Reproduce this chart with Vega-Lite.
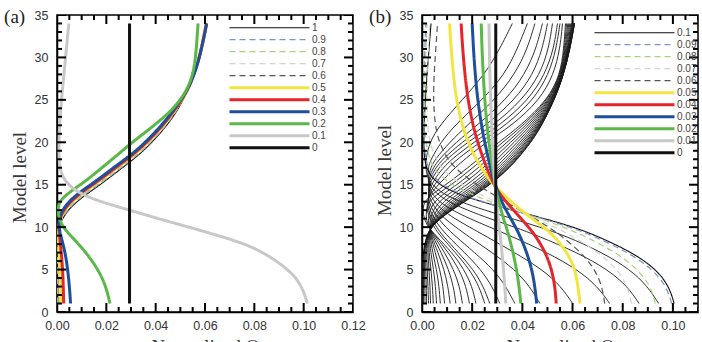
{
"$schema":"https://vega.github.io/schema/vega-lite/v6.json",
"padding":{"left":3,"top":7,"right":0,"bottom":0},
"datasets":{
"a":[
{"k":"1","l":1,"q":0},{"k":"1","l":4,"q":0},{"k":"1","l":7,"q":0.0001},{"k":"1","l":9,"q":0.0003},{"k":"1","l":10,"q":0.0008},{"k":"1","l":11,"q":0.0022},{"k":"1","l":12,"q":0.0045},{"k":"1","l":13,"q":0.008},{"k":"1","l":14,"q":0.0125},{"k":"1","l":15,"q":0.0175},{"k":"1","l":16,"q":0.022},{"k":"1","l":17,"q":0.0265},{"k":"1","l":18,"q":0.031},{"k":"1","l":19,"q":0.035},{"k":"1","l":20,"q":0.0385},{"k":"1","l":22,"q":0.0447},{"k":"1","l":24,"q":0.0494},{"k":"1","l":26,"q":0.0529},{"k":"1","l":28,"q":0.0555},{"k":"1","l":30,"q":0.0574},{"k":"1","l":32,"q":0.0589},{"k":"1","l":34,"q":0.0602},
{"k":"0.9","l":1,"q":0.0002},{"k":"0.9","l":4,"q":0.0002},{"k":"0.9","l":7,"q":0.0002},{"k":"0.9","l":9,"q":0.0003},{"k":"0.9","l":10,"q":0.0008},{"k":"0.9","l":11,"q":0.002},{"k":"0.9","l":12,"q":0.0042},{"k":"0.9","l":13,"q":0.0075},{"k":"0.9","l":14,"q":0.0119},{"k":"0.9","l":15,"q":0.0169},{"k":"0.9","l":16,"q":0.0215},{"k":"0.9","l":17,"q":0.026},{"k":"0.9","l":18,"q":0.0305},{"k":"0.9","l":19,"q":0.0345},{"k":"0.9","l":20,"q":0.0381},{"k":"0.9","l":22,"q":0.0444},{"k":"0.9","l":24,"q":0.0492},{"k":"0.9","l":26,"q":0.0529},{"k":"0.9","l":28,"q":0.0555},{"k":"0.9","l":30,"q":0.0574},{"k":"0.9","l":32,"q":0.0589},{"k":"0.9","l":34,"q":0.0602},
{"k":"0.8","l":1,"q":0.0004},{"k":"0.8","l":4,"q":0.0004},{"k":"0.8","l":7,"q":0.0003},{"k":"0.8","l":9,"q":0.0003},{"k":"0.8","l":10,"q":0.0007},{"k":"0.8","l":11,"q":0.0018},{"k":"0.8","l":12,"q":0.0039},{"k":"0.8","l":13,"q":0.0071},{"k":"0.8","l":14,"q":0.0114},{"k":"0.8","l":15,"q":0.0164},{"k":"0.8","l":16,"q":0.021},{"k":"0.8","l":17,"q":0.0255},{"k":"0.8","l":18,"q":0.0301},{"k":"0.8","l":19,"q":0.0342},{"k":"0.8","l":20,"q":0.0378},{"k":"0.8","l":22,"q":0.0441},{"k":"0.8","l":24,"q":0.049},{"k":"0.8","l":26,"q":0.0529},{"k":"0.8","l":28,"q":0.0555},{"k":"0.8","l":30,"q":0.0574},{"k":"0.8","l":32,"q":0.0589},{"k":"0.8","l":34,"q":0.0602},
{"k":"0.7","l":1,"q":0.0006},{"k":"0.7","l":4,"q":0.0005},{"k":"0.7","l":7,"q":0.0004},{"k":"0.7","l":9,"q":0.0004},{"k":"0.7","l":10,"q":0.0007},{"k":"0.7","l":11,"q":0.0017},{"k":"0.7","l":12,"q":0.0036},{"k":"0.7","l":13,"q":0.0068},{"k":"0.7","l":14,"q":0.0111},{"k":"0.7","l":15,"q":0.0161},{"k":"0.7","l":16,"q":0.0207},{"k":"0.7","l":17,"q":0.0252},{"k":"0.7","l":18,"q":0.0297},{"k":"0.7","l":19,"q":0.0339},{"k":"0.7","l":20,"q":0.0375},{"k":"0.7","l":22,"q":0.0439},{"k":"0.7","l":24,"q":0.0488},{"k":"0.7","l":26,"q":0.0529},{"k":"0.7","l":28,"q":0.0555},{"k":"0.7","l":30,"q":0.0575},{"k":"0.7","l":32,"q":0.059},{"k":"0.7","l":34,"q":0.0603},
{"k":"0.6","l":1,"q":0.0009},{"k":"0.6","l":4,"q":0.0008},{"k":"0.6","l":7,"q":0.0006},{"k":"0.6","l":9,"q":0.0005},{"k":"0.6","l":10,"q":0.0007},{"k":"0.6","l":11,"q":0.0015},{"k":"0.6","l":12,"q":0.0034},{"k":"0.6","l":13,"q":0.0065},{"k":"0.6","l":14,"q":0.0107},{"k":"0.6","l":15,"q":0.0157},{"k":"0.6","l":16,"q":0.0203},{"k":"0.6","l":17,"q":0.0248},{"k":"0.6","l":18,"q":0.0294},{"k":"0.6","l":19,"q":0.0336},{"k":"0.6","l":20,"q":0.0372},{"k":"0.6","l":22,"q":0.0437},{"k":"0.6","l":24,"q":0.0486},{"k":"0.6","l":26,"q":0.0529},{"k":"0.6","l":28,"q":0.0555},{"k":"0.6","l":30,"q":0.0575},{"k":"0.6","l":32,"q":0.059},{"k":"0.6","l":34,"q":0.0603},
{"k":"0.5","l":1,"q":0.0015},{"k":"0.5","l":4,"q":0.0013},{"k":"0.5","l":7,"q":0.0009},{"k":"0.5","l":9,"q":0.0006},{"k":"0.5","l":10,"q":0.0007},{"k":"0.5","l":11,"q":0.0013},{"k":"0.5","l":12,"q":0.003},{"k":"0.5","l":13,"q":0.006},{"k":"0.5","l":14,"q":0.0101},{"k":"0.5","l":15,"q":0.0151},{"k":"0.5","l":16,"q":0.0197},{"k":"0.5","l":17,"q":0.0243},{"k":"0.5","l":18,"q":0.0289},{"k":"0.5","l":19,"q":0.0331},{"k":"0.5","l":20,"q":0.0368},{"k":"0.5","l":22,"q":0.0433},{"k":"0.5","l":24,"q":0.0484},{"k":"0.5","l":26,"q":0.0529},{"k":"0.5","l":28,"q":0.0556},{"k":"0.5","l":30,"q":0.0576},{"k":"0.5","l":32,"q":0.0591},{"k":"0.5","l":34,"q":0.0604},
{"k":"0.4","l":1,"q":0.0027},{"k":"0.4","l":4,"q":0.0025},{"k":"0.4","l":7,"q":0.0018},{"k":"0.4","l":9,"q":0.001},{"k":"0.4","l":10,"q":0.0007},{"k":"0.4","l":11,"q":0.0011},{"k":"0.4","l":12,"q":0.0027},{"k":"0.4","l":13,"q":0.0055},{"k":"0.4","l":14,"q":0.0095},{"k":"0.4","l":15,"q":0.0145},{"k":"0.4","l":16,"q":0.0192},{"k":"0.4","l":17,"q":0.0237},{"k":"0.4","l":18,"q":0.0284},{"k":"0.4","l":19,"q":0.0326},{"k":"0.4","l":20,"q":0.0364},{"k":"0.4","l":22,"q":0.043},{"k":"0.4","l":24,"q":0.0482},{"k":"0.4","l":26,"q":0.0528},{"k":"0.4","l":28,"q":0.0556},{"k":"0.4","l":30,"q":0.0577},{"k":"0.4","l":32,"q":0.0593},{"k":"0.4","l":34,"q":0.0606},
{"k":"0.3","l":1,"q":0.0055},{"k":"0.3","l":4,"q":0.0048},{"k":"0.3","l":7,"q":0.0034},{"k":"0.3","l":9,"q":0.0015},{"k":"0.3","l":10,"q":0.0008},{"k":"0.3","l":11,"q":0.0008},{"k":"0.3","l":12,"q":0.0022},{"k":"0.3","l":13,"q":0.0048},{"k":"0.3","l":14,"q":0.0087},{"k":"0.3","l":15,"q":0.0137},{"k":"0.3","l":16,"q":0.0184},{"k":"0.3","l":17,"q":0.0229},{"k":"0.3","l":18,"q":0.0276},{"k":"0.3","l":19,"q":0.032},{"k":"0.3","l":20,"q":0.0358},{"k":"0.3","l":22,"q":0.0425},{"k":"0.3","l":24,"q":0.0478},{"k":"0.3","l":26,"q":0.0527},{"k":"0.3","l":28,"q":0.0556},{"k":"0.3","l":30,"q":0.0578},{"k":"0.3","l":32,"q":0.0593},{"k":"0.3","l":34,"q":0.0607},
{"k":"0.2","l":1,"q":0.0215},{"k":"0.2","l":4,"q":0.019},{"k":"0.2","l":7,"q":0.012},{"k":"0.2","l":9,"q":0.0055},{"k":"0.2","l":10,"q":0.0025},{"k":"0.2","l":11,"q":0.0008},{"k":"0.2","l":12,"q":0.0003},{"k":"0.2","l":13,"q":0.0008},{"k":"0.2","l":14,"q":0.0045},{"k":"0.2","l":15,"q":0.0095},{"k":"0.2","l":16,"q":0.014},{"k":"0.2","l":17,"q":0.0182},{"k":"0.2","l":18,"q":0.0224},{"k":"0.2","l":19,"q":0.0265},{"k":"0.2","l":20,"q":0.0305},{"k":"0.2","l":22,"q":0.0395},{"k":"0.2","l":24,"q":0.0475},{"k":"0.2","l":26,"q":0.0525},{"k":"0.2","l":28,"q":0.0551},{"k":"0.2","l":30,"q":0.0562},{"k":"0.2","l":32,"q":0.0567},{"k":"0.2","l":34,"q":0.0572},
{"k":"0.1","l":1,"q":0.1015},{"k":"0.1","l":2,"q":0.1005},{"k":"0.1","l":3,"q":0.099},{"k":"0.1","l":4,"q":0.097},{"k":"0.1","l":5,"q":0.0935},{"k":"0.1","l":6,"q":0.089},{"k":"0.1","l":7,"q":0.0835},{"k":"0.1","l":8,"q":0.0765},{"k":"0.1","l":9,"q":0.0655},{"k":"0.1","l":10,"q":0.0535},{"k":"0.1","l":11,"q":0.041},{"k":"0.1","l":12,"q":0.0295},{"k":"0.1","l":13,"q":0.0175},{"k":"0.1","l":14,"q":0.009},{"k":"0.1","l":15,"q":0.0045},{"k":"0.1","l":16,"q":0.0022},{"k":"0.1","l":17,"q":0.0012},{"k":"0.1","l":18,"q":0.0008},{"k":"0.1","l":20,"q":0.0008},{"k":"0.1","l":22,"q":0.001},{"k":"0.1","l":25,"q":0.0018},{"k":"0.1","l":28,"q":0.0028},{"k":"0.1","l":31,"q":0.0038},{"k":"0.1","l":34,"q":0.0048},
{"k":"0","l":1,"q":0.0294},{"k":"0","l":34,"q":0.0294}
],
"b":[
{"k":"0.1","l":1,"q":0.1005},{"k":"0.1","l":3,"q":0.0985},{"k":"0.1","l":5,"q":0.0935},{"k":"0.1","l":7,"q":0.084},{"k":"0.1","l":9,"q":0.0695},{"k":"0.1","l":10,"q":0.0605},{"k":"0.1","l":11,"q":0.049},{"k":"0.1","l":12,"q":0.036},{"k":"0.1","l":13,"q":0.0235},{"k":"0.1","l":14,"q":0.0135},{"k":"0.1","l":15,"q":0.007},{"k":"0.1","l":16,"q":0.0035},{"k":"0.1","l":17,"q":0.0018},{"k":"0.1","l":18,"q":0.001},{"k":"0.1","l":20,"q":0.0007},{"k":"0.1","l":22,"q":0.0008},{"k":"0.1","l":25,"q":0.0013},{"k":"0.1","l":28,"q":0.002},{"k":"0.1","l":31,"q":0.0028},{"k":"0.1","l":34,"q":0.0036},
{"k":"0.09","l":1,"q":0.0995},{"k":"0.09","l":3,"q":0.0975},{"k":"0.09","l":5,"q":0.092},{"k":"0.09","l":7,"q":0.0825},{"k":"0.09","l":9,"q":0.068},{"k":"0.09","l":10,"q":0.059},{"k":"0.09","l":11,"q":0.048},{"k":"0.09","l":12,"q":0.036},{"k":"0.09","l":13,"q":0.024},{"k":"0.09","l":14,"q":0.0145},{"k":"0.09","l":15,"q":0.0082},{"k":"0.09","l":16,"q":0.0045},{"k":"0.09","l":17,"q":0.0025},{"k":"0.09","l":18,"q":0.0015},{"k":"0.09","l":20,"q":0.0008},{"k":"0.09","l":22,"q":0.0006},{"k":"0.09","l":25,"q":0.0006},{"k":"0.09","l":28,"q":0.0008},{"k":"0.09","l":31,"q":0.0011},{"k":"0.09","l":34,"q":0.0015},
{"k":"0.08","l":1,"q":0.093},{"k":"0.08","l":3,"q":0.0912},{"k":"0.08","l":5,"q":0.0862},{"k":"0.08","l":7,"q":0.0775},{"k":"0.08","l":9,"q":0.0645},{"k":"0.08","l":10,"q":0.0565},{"k":"0.08","l":11,"q":0.0472},{"k":"0.08","l":12,"q":0.0372},{"k":"0.08","l":13,"q":0.0272},{"k":"0.08","l":14,"q":0.0185},{"k":"0.08","l":15,"q":0.012},{"k":"0.08","l":16,"q":0.0075},{"k":"0.08","l":17,"q":0.0046},{"k":"0.08","l":18,"q":0.003},{"k":"0.08","l":20,"q":0.0015},{"k":"0.08","l":22,"q":0.0011},{"k":"0.08","l":25,"q":0.001},{"k":"0.08","l":28,"q":0.0012},{"k":"0.08","l":31,"q":0.0016},{"k":"0.08","l":34,"q":0.002},
{"k":"0.07","l":1,"q":0.0835},{"k":"0.07","l":3,"q":0.082},{"k":"0.07","l":5,"q":0.078},{"k":"0.07","l":7,"q":0.0705},{"k":"0.07","l":9,"q":0.0595},{"k":"0.07","l":10,"q":0.053},{"k":"0.07","l":11,"q":0.0455},{"k":"0.07","l":12,"q":0.0375},{"k":"0.07","l":13,"q":0.0295},{"k":"0.07","l":14,"q":0.0222},{"k":"0.07","l":15,"q":0.016},{"k":"0.07","l":16,"q":0.0112},{"k":"0.07","l":17,"q":0.0078},{"k":"0.07","l":18,"q":0.0055},{"k":"0.07","l":20,"q":0.003},{"k":"0.07","l":22,"q":0.0022},{"k":"0.07","l":25,"q":0.002},{"k":"0.07","l":28,"q":0.0022},{"k":"0.07","l":31,"q":0.0026},{"k":"0.07","l":34,"q":0.003},
{"k":"0.06","l":1,"q":0.0728},{"k":"0.06","l":3,"q":0.0718},{"k":"0.06","l":5,"q":0.069},{"k":"0.06","l":7,"q":0.0635},{"k":"0.06","l":9,"q":0.0555},{"k":"0.06","l":10,"q":0.0505},{"k":"0.06","l":11,"q":0.045},{"k":"0.06","l":12,"q":0.0392},{"k":"0.06","l":13,"q":0.0332},{"k":"0.06","l":14,"q":0.0275},{"k":"0.06","l":15,"q":0.022},{"k":"0.06","l":16,"q":0.0172},{"k":"0.06","l":17,"q":0.0132},{"k":"0.06","l":18,"q":0.0102},{"k":"0.06","l":20,"q":0.0068},{"k":"0.06","l":22,"q":0.0052},{"k":"0.06","l":25,"q":0.0045},{"k":"0.06","l":28,"q":0.0048},{"k":"0.06","l":31,"q":0.0055},{"k":"0.06","l":34,"q":0.0062},
{"k":"0.05","l":1,"q":0.063},{"k":"0.05","l":3,"q":0.0622},{"k":"0.05","l":5,"q":0.061},{"k":"0.05","l":7,"q":0.058},{"k":"0.05","l":9,"q":0.0525},{"k":"0.05","l":10,"q":0.0485},{"k":"0.05","l":11,"q":0.044},{"k":"0.05","l":12,"q":0.0395},{"k":"0.05","l":13,"q":0.0355},{"k":"0.05","l":14,"q":0.032},{"k":"0.05","l":15,"q":0.0285},{"k":"0.05","l":16,"q":0.026},{"k":"0.05","l":17,"q":0.0237},{"k":"0.05","l":18,"q":0.0215},{"k":"0.05","l":20,"q":0.0184},{"k":"0.05","l":22,"q":0.016},{"k":"0.05","l":25,"q":0.0137},{"k":"0.05","l":28,"q":0.0125},{"k":"0.05","l":31,"q":0.0116},{"k":"0.05","l":34,"q":0.011},
{"k":"0.04","l":1,"q":0.0535},{"k":"0.04","l":3,"q":0.053},{"k":"0.04","l":5,"q":0.0517},{"k":"0.04","l":7,"q":0.0493},{"k":"0.04","l":9,"q":0.0452},{"k":"0.04","l":10,"q":0.0425},{"k":"0.04","l":11,"q":0.0395},{"k":"0.04","l":12,"q":0.0365},{"k":"0.04","l":13,"q":0.0335},{"k":"0.04","l":14,"q":0.0308},{"k":"0.04","l":15,"q":0.0288},{"k":"0.04","l":16,"q":0.0272},{"k":"0.04","l":17,"q":0.0258},{"k":"0.04","l":18,"q":0.0245},{"k":"0.04","l":20,"q":0.0222},{"k":"0.04","l":22,"q":0.0203},{"k":"0.04","l":25,"q":0.0183},{"k":"0.04","l":28,"q":0.0171},{"k":"0.04","l":31,"q":0.0162},{"k":"0.04","l":34,"q":0.0156},
{"k":"0.03","l":1,"q":0.0457},{"k":"0.03","l":3,"q":0.045},{"k":"0.03","l":5,"q":0.0438},{"k":"0.03","l":7,"q":0.0418},{"k":"0.03","l":9,"q":0.039},{"k":"0.03","l":10,"q":0.0373},{"k":"0.03","l":11,"q":0.0354},{"k":"0.03","l":12,"q":0.0335},{"k":"0.03","l":13,"q":0.0318},{"k":"0.03","l":14,"q":0.0304},{"k":"0.03","l":15,"q":0.0292},{"k":"0.03","l":16,"q":0.0282},{"k":"0.03","l":17,"q":0.0273},{"k":"0.03","l":18,"q":0.0265},{"k":"0.03","l":20,"q":0.025},{"k":"0.03","l":22,"q":0.0237},{"k":"0.03","l":25,"q":0.0222},{"k":"0.03","l":28,"q":0.0212},{"k":"0.03","l":31,"q":0.0205},{"k":"0.03","l":34,"q":0.02},
{"k":"0.02","l":1,"q":0.0394},{"k":"0.02","l":3,"q":0.0387},{"k":"0.02","l":5,"q":0.0377},{"k":"0.02","l":7,"q":0.0363},{"k":"0.02","l":9,"q":0.0346},{"k":"0.02","l":10,"q":0.0336},{"k":"0.02","l":11,"q":0.0325},{"k":"0.02","l":12,"q":0.0315},{"k":"0.02","l":13,"q":0.0306},{"k":"0.02","l":14,"q":0.0298},{"k":"0.02","l":15,"q":0.0291},{"k":"0.02","l":16,"q":0.0286},{"k":"0.02","l":17,"q":0.0281},{"k":"0.02","l":18,"q":0.0276},{"k":"0.02","l":20,"q":0.0267},{"k":"0.02","l":22,"q":0.0259},{"k":"0.02","l":25,"q":0.025},{"k":"0.02","l":28,"q":0.0244},{"k":"0.02","l":31,"q":0.0239},{"k":"0.02","l":34,"q":0.0236},
{"k":"0.01","l":1,"q":0.0334},{"k":"0.01","l":3,"q":0.033},{"k":"0.01","l":5,"q":0.0325},{"k":"0.01","l":7,"q":0.0319},{"k":"0.01","l":9,"q":0.0312},{"k":"0.01","l":11,"q":0.0304},{"k":"0.01","l":13,"q":0.0297},{"k":"0.01","l":15,"q":0.0291},{"k":"0.01","l":17,"q":0.0286},{"k":"0.01","l":20,"q":0.028},{"k":"0.01","l":25,"q":0.0273},{"k":"0.01","l":30,"q":0.0269},{"k":"0.01","l":34,"q":0.0267},
{"k":"0","l":1,"q":0.0294},{"k":"0","l":34,"q":0.0294}
],
"bt":[
{"s":"T1","l":1,"q":0.0943},{"s":"T1","l":3,"q":0.09},{"s":"T1","l":5,"q":0.083},{"s":"T1","l":7,"q":0.072},{"s":"T1","l":9,"q":0.057},{"s":"T1","l":10,"q":0.047},{"s":"T1","l":11,"q":0.036},{"s":"T1","l":12,"q":0.025},{"s":"T1","l":13,"q":0.015},{"s":"T1","l":14,"q":0.008},{"s":"T1","l":15,"q":0.004},{"s":"T1","l":16,"q":0.002},{"s":"T1","l":17,"q":0.0015},{"s":"T1","l":18,"q":0.0015},{"s":"T1","l":20,"q":0.003},{"s":"T1","l":22,"q":0.007},{"s":"T1","l":25,"q":0.016},{"s":"T1","l":28,"q":0.025},{"s":"T1","l":31,"q":0.031},{"s":"T1","l":34,"q":0.036},
{"s":"T2","l":1,"q":0.0865},{"s":"T2","l":3,"q":0.082},{"s":"T2","l":5,"q":0.074},{"s":"T2","l":7,"q":0.062},{"s":"T2","l":9,"q":0.046},{"s":"T2","l":10,"q":0.037},{"s":"T2","l":11,"q":0.027},{"s":"T2","l":12,"q":0.018},{"s":"T2","l":13,"q":0.0105},{"s":"T2","l":14,"q":0.0055},{"s":"T2","l":15,"q":0.003},{"s":"T2","l":16,"q":0.0022},{"s":"T2","l":17,"q":0.0025},{"s":"T2","l":18,"q":0.0035},{"s":"T2","l":20,"q":0.0075},{"s":"T2","l":22,"q":0.013},{"s":"T2","l":25,"q":0.024},{"s":"T2","l":28,"q":0.033},{"s":"T2","l":31,"q":0.038},{"s":"T2","l":34,"q":0.042},
{"s":"T3","l":1,"q":0.0748},{"s":"T3","l":3,"q":0.07},{"s":"T3","l":5,"q":0.062},{"s":"T3","l":7,"q":0.05},{"s":"T3","l":9,"q":0.035},{"s":"T3","l":10,"q":0.027},{"s":"T3","l":11,"q":0.019},{"s":"T3","l":12,"q":0.012},{"s":"T3","l":13,"q":0.0068},{"s":"T3","l":14,"q":0.0038},{"s":"T3","l":15,"q":0.0025},{"s":"T3","l":16,"q":0.0025},{"s":"T3","l":17,"q":0.0035},{"s":"T3","l":18,"q":0.0052},{"s":"T3","l":20,"q":0.011},{"s":"T3","l":22,"q":0.018},{"s":"T3","l":25,"q":0.029},{"s":"T3","l":28,"q":0.037},{"s":"T3","l":31,"q":0.042},{"s":"T3","l":34,"q":0.045},
{"s":"T4","l":1,"q":0.06},{"s":"T4","l":3,"q":0.0555},{"s":"T4","l":5,"q":0.048},{"s":"T4","l":7,"q":0.037},{"s":"T4","l":9,"q":0.025},{"s":"T4","l":10,"q":0.019},{"s":"T4","l":11,"q":0.013},{"s":"T4","l":12,"q":0.0082},{"s":"T4","l":13,"q":0.0048},{"s":"T4","l":14,"q":0.003},{"s":"T4","l":15,"q":0.0025},{"s":"T4","l":16,"q":0.003},{"s":"T4","l":17,"q":0.0045},{"s":"T4","l":18,"q":0.0068},{"s":"T4","l":20,"q":0.0135},{"s":"T4","l":22,"q":0.022},{"s":"T4","l":25,"q":0.0335},{"s":"T4","l":28,"q":0.041},{"s":"T4","l":31,"q":0.0455},{"s":"T4","l":34,"q":0.048},
{"s":"T5","l":1,"q":0.047},{"s":"T5","l":3,"q":0.043},{"s":"T5","l":5,"q":0.037},{"s":"T5","l":7,"q":0.028},{"s":"T5","l":9,"q":0.018},{"s":"T5","l":10,"q":0.0135},{"s":"T5","l":11,"q":0.009},{"s":"T5","l":12,"q":0.0058},{"s":"T5","l":13,"q":0.0036},{"s":"T5","l":14,"q":0.0026},{"s":"T5","l":15,"q":0.0026},{"s":"T5","l":16,"q":0.0036},{"s":"T5","l":17,"q":0.0055},{"s":"T5","l":18,"q":0.0082},{"s":"T5","l":20,"q":0.0158},{"s":"T5","l":22,"q":0.0255},{"s":"T5","l":25,"q":0.037},{"s":"T5","l":28,"q":0.0443},{"s":"T5","l":31,"q":0.048},{"s":"T5","l":34,"q":0.05},
{"s":"T6","l":1,"q":0.037},{"s":"T6","l":3,"q":0.0335},{"s":"T6","l":5,"q":0.0285},{"s":"T6","l":7,"q":0.021},{"s":"T6","l":9,"q":0.013},{"s":"T6","l":10,"q":0.0095},{"s":"T6","l":11,"q":0.0065},{"s":"T6","l":12,"q":0.0042},{"s":"T6","l":13,"q":0.0028},{"s":"T6","l":14,"q":0.0024},{"s":"T6","l":15,"q":0.003},{"s":"T6","l":16,"q":0.0045},{"s":"T6","l":17,"q":0.0068},{"s":"T6","l":18,"q":0.0098},{"s":"T6","l":20,"q":0.018},{"s":"T6","l":22,"q":0.0285},{"s":"T6","l":25,"q":0.04},{"s":"T6","l":28,"q":0.047},{"s":"T6","l":31,"q":0.0505},{"s":"T6","l":34,"q":0.052},
{"s":"T7","l":1,"q":0.031},{"s":"T7","l":3,"q":0.028},{"s":"T7","l":5,"q":0.0235},{"s":"T7","l":7,"q":0.017},{"s":"T7","l":9,"q":0.01},{"s":"T7","l":10,"q":0.0072},{"s":"T7","l":11,"q":0.0048},{"s":"T7","l":12,"q":0.0032},{"s":"T7","l":13,"q":0.0024},{"s":"T7","l":14,"q":0.0026},{"s":"T7","l":15,"q":0.0038},{"s":"T7","l":16,"q":0.0058},{"s":"T7","l":17,"q":0.0085},{"s":"T7","l":18,"q":0.0118},{"s":"T7","l":20,"q":0.0205},{"s":"T7","l":22,"q":0.031},{"s":"T7","l":25,"q":0.0425},{"s":"T7","l":28,"q":0.049},{"s":"T7","l":31,"q":0.0525},{"s":"T7","l":34,"q":0.054},
{"s":"T8","l":1,"q":0.027},{"s":"T8","l":3,"q":0.0245},{"s":"T8","l":5,"q":0.0205},{"s":"T8","l":7,"q":0.0145},{"s":"T8","l":9,"q":0.0082},{"s":"T8","l":10,"q":0.0058},{"s":"T8","l":11,"q":0.0038},{"s":"T8","l":12,"q":0.0025},{"s":"T8","l":13,"q":0.0022},{"s":"T8","l":14,"q":0.003},{"s":"T8","l":15,"q":0.005},{"s":"T8","l":16,"q":0.0075},{"s":"T8","l":17,"q":0.0105},{"s":"T8","l":18,"q":0.014},{"s":"T8","l":20,"q":0.023},{"s":"T8","l":22,"q":0.0335},{"s":"T8","l":25,"q":0.0445},{"s":"T8","l":28,"q":0.0505},{"s":"T8","l":31,"q":0.0535},{"s":"T8","l":34,"q":0.055},
{"s":"T9","l":1,"q":0.025},{"s":"T9","l":3,"q":0.0228},{"s":"T9","l":5,"q":0.019},{"s":"T9","l":7,"q":0.0133},{"s":"T9","l":9,"q":0.0072},{"s":"T9","l":10,"q":0.0048},{"s":"T9","l":11,"q":0.003},{"s":"T9","l":12,"q":0.002},{"s":"T9","l":13,"q":0.002},{"s":"T9","l":14,"q":0.0035},{"s":"T9","l":15,"q":0.0065},{"s":"T9","l":16,"q":0.0098},{"s":"T9","l":17,"q":0.0132},{"s":"T9","l":18,"q":0.017},{"s":"T9","l":20,"q":0.0255},{"s":"T9","l":22,"q":0.036},{"s":"T9","l":25,"q":0.047},{"s":"T9","l":28,"q":0.0525},{"s":"T9","l":31,"q":0.055},{"s":"T9","l":34,"q":0.056},
{"s":"G","l":1,"q":0.0215},{"s":"G","l":3,"q":0.02},{"s":"G","l":5,"q":0.0168},{"s":"G","l":7,"q":0.012},{"s":"G","l":9,"q":0.0055},{"s":"G","l":10,"q":0.0025},{"s":"G","l":11,"q":0.0008},{"s":"G","l":12,"q":0.0003},{"s":"G","l":13,"q":0.0008},{"s":"G","l":14,"q":0.0045},{"s":"G","l":15,"q":0.0095},{"s":"G","l":16,"q":0.014},{"s":"G","l":17,"q":0.0182},{"s":"G","l":18,"q":0.0224},{"s":"G","l":20,"q":0.0305},{"s":"G","l":22,"q":0.0395},{"s":"G","l":25,"q":0.05},{"s":"G","l":28,"q":0.0551},{"s":"G","l":31,"q":0.0565},{"s":"G","l":34,"q":0.0572},
{"s":"U12","l":1,"q":0.0189},{"s":"U12","l":3,"q":0.0176},{"s":"U12","l":5,"q":0.0148},{"s":"U12","l":7,"q":0.0106},{"s":"U12","l":9,"q":0.0051},{"s":"U12","l":10,"q":0.0027},{"s":"U12","l":11,"q":0.0016},{"s":"U12","l":12,"q":0.0017},{"s":"U12","l":13,"q":0.0027},{"s":"U12","l":14,"q":0.0066},{"s":"U12","l":15,"q":0.0116},{"s":"U12","l":16,"q":0.0161},{"s":"U12","l":17,"q":0.0202},{"s":"U12","l":18,"q":0.0243},{"s":"U12","l":20,"q":0.0321},{"s":"U12","l":22,"q":0.0405},{"s":"U12","l":25,"q":0.0503},{"s":"U12","l":28,"q":0.0553},{"s":"U12","l":31,"q":0.0568},{"s":"U12","l":34,"q":0.0576},
{"s":"U25","l":1,"q":0.0161},{"s":"U25","l":3,"q":0.015},{"s":"U25","l":5,"q":0.0126},{"s":"U25","l":7,"q":0.0091},{"s":"U25","l":9,"q":0.0046},{"s":"U25","l":10,"q":0.0028},{"s":"U25","l":11,"q":0.0024},{"s":"U25","l":12,"q":0.0032},{"s":"U25","l":13,"q":0.0049},{"s":"U25","l":14,"q":0.0089},{"s":"U25","l":15,"q":0.0139},{"s":"U25","l":16,"q":0.0183},{"s":"U25","l":17,"q":0.0224},{"s":"U25","l":18,"q":0.0263},{"s":"U25","l":20,"q":0.0338},{"s":"U25","l":22,"q":0.0416},{"s":"U25","l":25,"q":0.0507},{"s":"U25","l":28,"q":0.0555},{"s":"U25","l":31,"q":0.0571},{"s":"U25","l":34,"q":0.0581},
{"s":"U37","l":1,"q":0.0135},{"s":"U37","l":3,"q":0.0126},{"s":"U37","l":5,"q":0.0106},{"s":"U37","l":7,"q":0.0077},{"s":"U37","l":9,"q":0.0041},{"s":"U37","l":10,"q":0.003},{"s":"U37","l":11,"q":0.0032},{"s":"U37","l":12,"q":0.0046},{"s":"U37","l":13,"q":0.0068},{"s":"U37","l":14,"q":0.011},{"s":"U37","l":15,"q":0.016},{"s":"U37","l":16,"q":0.0204},{"s":"U37","l":17,"q":0.0243},{"s":"U37","l":18,"q":0.0282},{"s":"U37","l":20,"q":0.0353},{"s":"U37","l":22,"q":0.0426},{"s":"U37","l":25,"q":0.051},{"s":"U37","l":28,"q":0.0556},{"s":"U37","l":31,"q":0.0574},{"s":"U37","l":34,"q":0.0585},
{"s":"U48","l":1,"q":0.0112},{"s":"U48","l":3,"q":0.0104},{"s":"U48","l":5,"q":0.0088},{"s":"U48","l":7,"q":0.0064},{"s":"U48","l":9,"q":0.0037},{"s":"U48","l":10,"q":0.0031},{"s":"U48","l":11,"q":0.0039},{"s":"U48","l":12,"q":0.0058},{"s":"U48","l":13,"q":0.0086},{"s":"U48","l":14,"q":0.013},{"s":"U48","l":15,"q":0.0179},{"s":"U48","l":16,"q":0.0223},{"s":"U48","l":17,"q":0.0262},{"s":"U48","l":18,"q":0.0299},{"s":"U48","l":20,"q":0.0367},{"s":"U48","l":22,"q":0.0435},{"s":"U48","l":25,"q":0.0513},{"s":"U48","l":28,"q":0.0558},{"s":"U48","l":31,"q":0.0577},{"s":"U48","l":34,"q":0.0589},
{"s":"U58","l":1,"q":0.009},{"s":"U58","l":3,"q":0.0084},{"s":"U58","l":5,"q":0.0071},{"s":"U58","l":7,"q":0.0053},{"s":"U58","l":9,"q":0.0034},{"s":"U58","l":10,"q":0.0033},{"s":"U58","l":11,"q":0.0045},{"s":"U58","l":12,"q":0.007},{"s":"U58","l":13,"q":0.0102},{"s":"U58","l":14,"q":0.0148},{"s":"U58","l":15,"q":0.0197},{"s":"U58","l":16,"q":0.024},{"s":"U58","l":17,"q":0.0278},{"s":"U58","l":18,"q":0.0314},{"s":"U58","l":20,"q":0.038},{"s":"U58","l":22,"q":0.0443},{"s":"U58","l":25,"q":0.0516},{"s":"U58","l":28,"q":0.0559},{"s":"U58","l":31,"q":0.058},{"s":"U58","l":34,"q":0.0593},
{"s":"U66","l":1,"q":0.0073},{"s":"U66","l":3,"q":0.0068},{"s":"U66","l":5,"q":0.0058},{"s":"U66","l":7,"q":0.0043},{"s":"U66","l":9,"q":0.0031},{"s":"U66","l":10,"q":0.0034},{"s":"U66","l":11,"q":0.005},{"s":"U66","l":12,"q":0.0079},{"s":"U66","l":13,"q":0.0115},{"s":"U66","l":14,"q":0.0162},{"s":"U66","l":15,"q":0.0211},{"s":"U66","l":16,"q":0.0254},{"s":"U66","l":17,"q":0.0292},{"s":"U66","l":18,"q":0.0327},{"s":"U66","l":20,"q":0.0391},{"s":"U66","l":22,"q":0.045},{"s":"U66","l":25,"q":0.0518},{"s":"U66","l":28,"q":0.056},{"s":"U66","l":31,"q":0.0582},{"s":"U66","l":34,"q":0.0596},
{"s":"U73","l":1,"q":0.0058},{"s":"U73","l":3,"q":0.0054},{"s":"U73","l":5,"q":0.0046},{"s":"U73","l":7,"q":0.0035},{"s":"U73","l":9,"q":0.0028},{"s":"U73","l":10,"q":0.0034},{"s":"U73","l":11,"q":0.0055},{"s":"U73","l":12,"q":0.0087},{"s":"U73","l":13,"q":0.0126},{"s":"U73","l":14,"q":0.0174},{"s":"U73","l":15,"q":0.0223},{"s":"U73","l":16,"q":0.0266},{"s":"U73","l":17,"q":0.0303},{"s":"U73","l":18,"q":0.0338},{"s":"U73","l":20,"q":0.04},{"s":"U73","l":22,"q":0.0456},{"s":"U73","l":25,"q":0.052},{"s":"U73","l":28,"q":0.0561},{"s":"U73","l":31,"q":0.0583},{"s":"U73","l":34,"q":0.0598},
{"s":"U79","l":1,"q":0.0045},{"s":"U79","l":3,"q":0.0042},{"s":"U79","l":5,"q":0.0036},{"s":"U79","l":7,"q":0.0028},{"s":"U79","l":9,"q":0.0026},{"s":"U79","l":10,"q":0.0035},{"s":"U79","l":11,"q":0.0059},{"s":"U79","l":12,"q":0.0094},{"s":"U79","l":13,"q":0.0136},{"s":"U79","l":14,"q":0.0185},{"s":"U79","l":15,"q":0.0233},{"s":"U79","l":16,"q":0.0276},{"s":"U79","l":17,"q":0.0313},{"s":"U79","l":18,"q":0.0347},{"s":"U79","l":20,"q":0.0408},{"s":"U79","l":22,"q":0.0461},{"s":"U79","l":25,"q":0.0522},{"s":"U79","l":28,"q":0.0562},{"s":"U79","l":31,"q":0.0585},{"s":"U79","l":34,"q":0.06},
{"s":"U84","l":1,"q":0.0034},{"s":"U84","l":3,"q":0.0032},{"s":"U84","l":5,"q":0.0028},{"s":"U84","l":7,"q":0.0023},{"s":"U84","l":9,"q":0.0024},{"s":"U84","l":10,"q":0.0036},{"s":"U84","l":11,"q":0.0062},{"s":"U84","l":12,"q":0.01},{"s":"U84","l":13,"q":0.0144},{"s":"U84","l":14,"q":0.0194},{"s":"U84","l":15,"q":0.0242},{"s":"U84","l":16,"q":0.0284},{"s":"U84","l":17,"q":0.0321},{"s":"U84","l":18,"q":0.0355},{"s":"U84","l":20,"q":0.0414},{"s":"U84","l":22,"q":0.0465},{"s":"U84","l":25,"q":0.0524},{"s":"U84","l":28,"q":0.0563},{"s":"U84","l":31,"q":0.0586},{"s":"U84","l":34,"q":0.0602},
{"s":"U88","l":1,"q":0.0026},{"s":"U88","l":3,"q":0.0024},{"s":"U88","l":5,"q":0.0021},{"s":"U88","l":7,"q":0.0018},{"s":"U88","l":9,"q":0.0022},{"s":"U88","l":10,"q":0.0036},{"s":"U88","l":11,"q":0.0064},{"s":"U88","l":12,"q":0.0104},{"s":"U88","l":13,"q":0.0151},{"s":"U88","l":14,"q":0.0201},{"s":"U88","l":15,"q":0.0249},{"s":"U88","l":16,"q":0.0291},{"s":"U88","l":17,"q":0.0328},{"s":"U88","l":18,"q":0.0361},{"s":"U88","l":20,"q":0.0419},{"s":"U88","l":22,"q":0.0468},{"s":"U88","l":25,"q":0.0525},{"s":"U88","l":28,"q":0.0563},{"s":"U88","l":31,"q":0.0587},{"s":"U88","l":34,"q":0.0604},
{"s":"U915","l":1,"q":0.0018},{"s":"U915","l":3,"q":0.0017},{"s":"U915","l":5,"q":0.0015},{"s":"U915","l":7,"q":0.0014},{"s":"U915","l":9,"q":0.0021},{"s":"U915","l":10,"q":0.0037},{"s":"U915","l":11,"q":0.0067},{"s":"U915","l":12,"q":0.0108},{"s":"U915","l":13,"q":0.0156},{"s":"U915","l":14,"q":0.0207},{"s":"U915","l":15,"q":0.0255},{"s":"U915","l":16,"q":0.0297},{"s":"U915","l":17,"q":0.0334},{"s":"U915","l":18,"q":0.0367},{"s":"U915","l":20,"q":0.0424},{"s":"U915","l":22,"q":0.0471},{"s":"U915","l":25,"q":0.0526},{"s":"U915","l":28,"q":0.0564},{"s":"U915","l":31,"q":0.0588},{"s":"U915","l":34,"q":0.0605},
{"s":"U945","l":1,"q":0.0012},{"s":"U945","l":3,"q":0.0011},{"s":"U945","l":5,"q":0.001},{"s":"U945","l":7,"q":0.001},{"s":"U945","l":9,"q":0.002},{"s":"U945","l":10,"q":0.0037},{"s":"U945","l":11,"q":0.0068},{"s":"U945","l":12,"q":0.0112},{"s":"U945","l":13,"q":0.0161},{"s":"U945","l":14,"q":0.0212},{"s":"U945","l":15,"q":0.026},{"s":"U945","l":16,"q":0.0303},{"s":"U945","l":17,"q":0.0339},{"s":"U945","l":18,"q":0.0371},{"s":"U945","l":20,"q":0.0428},{"s":"U945","l":22,"q":0.0473},{"s":"U945","l":25,"q":0.0526},{"s":"U945","l":28,"q":0.0564},{"s":"U945","l":31,"q":0.0589},{"s":"U945","l":34,"q":0.0606},
{"s":"U97","l":1,"q":0.0006},{"s":"U97","l":3,"q":0.0006},{"s":"U97","l":5,"q":0.0006},{"s":"U97","l":7,"q":0.0007},{"s":"U97","l":9,"q":0.0019},{"s":"U97","l":10,"q":0.0038},{"s":"U97","l":11,"q":0.007},{"s":"U97","l":12,"q":0.0115},{"s":"U97","l":13,"q":0.0165},{"s":"U97","l":14,"q":0.0217},{"s":"U97","l":15,"q":0.0265},{"s":"U97","l":16,"q":0.0307},{"s":"U97","l":17,"q":0.0343},{"s":"U97","l":18,"q":0.0375},{"s":"U97","l":20,"q":0.0431},{"s":"U97","l":22,"q":0.0476},{"s":"U97","l":25,"q":0.0527},{"s":"U97","l":28,"q":0.0565},{"s":"U97","l":31,"q":0.0589},{"s":"U97","l":34,"q":0.0607},
{"s":"U99","l":1,"q":0.0002},{"s":"U99","l":3,"q":0.0002},{"s":"U99","l":5,"q":0.0003},{"s":"U99","l":7,"q":0.0005},{"s":"U99","l":9,"q":0.0018},{"s":"U99","l":10,"q":0.0038},{"s":"U99","l":11,"q":0.0071},{"s":"U99","l":12,"q":0.0117},{"s":"U99","l":13,"q":0.0168},{"s":"U99","l":14,"q":0.022},{"s":"U99","l":15,"q":0.0268},{"s":"U99","l":16,"q":0.031},{"s":"U99","l":17,"q":0.0346},{"s":"U99","l":18,"q":0.0378},{"s":"U99","l":20,"q":0.0434},{"s":"U99","l":22,"q":0.0477},{"s":"U99","l":25,"q":0.0528},{"s":"U99","l":28,"q":0.0565},{"s":"U99","l":31,"q":0.059},{"s":"U99","l":34,"q":0.0608},
{"s":"K","l":1,"q":0},{"s":"K","l":3,"q":0},{"s":"K","l":5,"q":0.0001},{"s":"K","l":7,"q":0.0004},{"s":"K","l":9,"q":0.0018},{"s":"K","l":10,"q":0.0038},{"s":"K","l":11,"q":0.0072},{"s":"K","l":12,"q":0.0118},{"s":"K","l":13,"q":0.017},{"s":"K","l":14,"q":0.0222},{"s":"K","l":15,"q":0.027},{"s":"K","l":16,"q":0.0312},{"s":"K","l":17,"q":0.0348},{"s":"K","l":18,"q":0.038},{"s":"K","l":20,"q":0.0435},{"s":"K","l":22,"q":0.0478},{"s":"K","l":25,"q":0.0528},{"s":"K","l":28,"q":0.0565},{"s":"K","l":31,"q":0.059},{"s":"K","l":34,"q":0.0608}
],
"txa":[{"v":0},{"v":0.005},{"v":0.01},{"v":0.015},{"v":0.02},{"v":0.025},{"v":0.03},{"v":0.035},{"v":0.04},{"v":0.045},{"v":0.05},{"v":0.055},{"v":0.06},{"v":0.065},{"v":0.07},{"v":0.075},{"v":0.08},{"v":0.085},{"v":0.09},{"v":0.095},{"v":0.1},{"v":0.105},{"v":0.11},{"v":0.115},{"v":0.12}],
"txb":[{"v":0},{"v":0.005},{"v":0.01},{"v":0.015},{"v":0.02},{"v":0.025},{"v":0.03},{"v":0.035},{"v":0.04},{"v":0.045},{"v":0.05},{"v":0.055},{"v":0.06},{"v":0.065},{"v":0.07},{"v":0.075},{"v":0.08},{"v":0.085},{"v":0.09},{"v":0.095},{"v":0.1},{"v":0.105},{"v":0.11}],
"ty":[{"v":0},{"v":1},{"v":2},{"v":3},{"v":4},{"v":5},{"v":6},{"v":7},{"v":8},{"v":9},{"v":10},{"v":11},{"v":12},{"v":13},{"v":14},{"v":15},{"v":16},{"v":17},{"v":18},{"v":19},{"v":20},{"v":21},{"v":22},{"v":23},{"v":24},{"v":25},{"v":26},{"v":27},{"v":28},{"v":29},{"v":30},{"v":31},{"v":32},{"v":33},{"v":34},{"v":35}]
},
"spacing":2,
"resolve":{"scale":{"x":"independent","y":"independent","color":"independent","strokeDash":"independent","strokeWidth":"independent","size":"independent"},"legend":{"color":"independent","strokeDash":"independent","strokeWidth":"independent"}},
"hconcat":[
{
"width":296,"height":297,
"title":{"text":"(a)","anchor":"start","frame":"bounds","font":"Liberation Serif","fontSize":19,"fontWeight":"normal","color":"#222","offset":0,"dy":18,"dx":-6},
"layer":[
{"data":{"name":"a"},
"mark":{"type":"line","interpolate":"basis","clip":true},
"encoding":{
"x":{"field":"q","type":"quantitative","scale":{"domain":[0,0.12],"nice":false,"zero":false},
"axis":{"orient":"bottom","ticks":false,"values":[0,0.02,0.04,0.06,0.08,0.1,0.12],"format":".2f","labelPadding":7,"title":"Normalized Q","titlePadding":6}},
"y":{"field":"l","type":"quantitative","scale":{"domain":[0,35],"nice":false,"zero":false},
"axis":{"orient":"left","ticks":false,"values":[0,5,10,15,20,25,30,35],"labelPadding":9,"title":"Model level","titlePadding":5,"titleY":162}},
"color":{"field":"k","type":"nominal","scale":{"domain":["1","0.9","0.8","0.7","0.6","0.5","0.4","0.3","0.2","0.1","0"],"range":["#111111","#7f93c9","#a6d37c","#d3d3d3","#555555","#f2e541","#e3262b","#1d4f9c","#5bb848","#c8c8c8","#111111"]},"legend":{"orient":"none","legendX":171,"legendY":7}},
"strokeDash":{"field":"k","type":"nominal","scale":{"domain":["1","0.9","0.8","0.7","0.6","0.5","0.4","0.3","0.2","0.1","0"],"range":[[1,0],[6,4],[6,4],[6,4],[6,4],[1,0],[1,0],[1,0],[1,0],[1,0],[1,0]]},"legend":{"orient":"none","legendX":171,"legendY":7}},
"strokeWidth":{"field":"k","type":"ordinal","scale":{"type":"ordinal","domain":["1","0.9","0.8","0.7","0.6","0.5","0.4","0.3","0.2","0.1","0"],"range":[1.1,1.2,1.2,1.2,1.2,3,3,3,3,3,3]},"legend":{"orient":"none","legendX":171,"legendY":7}},
"order":{"field":"l","type":"quantitative"}
}},
{"data":{"name":"txa"},
"mark":{"type":"tick","orient":"vertical","clip":true,"color":"#000","thickness":2,"opacity":1},
"encoding":{"x":{"field":"v","type":"quantitative"},"y":{"datum":0,"type":"quantitative"},
"size":{"condition":{"test":"abs(datum.v/0.02-round(datum.v/0.02))<0.01","value":18},"value":10}}},
{"data":{"name":"txa"},
"mark":{"type":"tick","orient":"vertical","clip":true,"color":"#000","thickness":2,"opacity":1},
"encoding":{"x":{"field":"v","type":"quantitative"},"y":{"datum":35,"type":"quantitative"},
"size":{"condition":{"test":"abs(datum.v/0.02-round(datum.v/0.02))<0.01","value":18},"value":10}}},
{"data":{"name":"ty"},
"mark":{"type":"tick","orient":"horizontal","clip":true,"color":"#000","thickness":2,"opacity":1},
"encoding":{"y":{"field":"v","type":"quantitative"},"x":{"datum":0,"type":"quantitative"},
"size":{"condition":{"test":"datum.v % 5 == 0","value":18},"value":10}}},
{"data":{"name":"ty"},
"mark":{"type":"tick","orient":"horizontal","clip":true,"color":"#000","thickness":2,"opacity":1},
"encoding":{"y":{"field":"v","type":"quantitative"},"x":{"datum":0.12,"type":"quantitative"},
"size":{"condition":{"test":"datum.v % 5 == 0","value":18},"value":10}}}
]
},
{
"width":276,"height":297,
"title":{"text":"(b)","anchor":"start","frame":"bounds","font":"Liberation Serif","fontSize":19,"fontWeight":"normal","color":"#222","offset":0,"dy":18,"dx":-6},
"layer":[
{"data":{"name":"bt"},
"mark":{"type":"line","interpolate":"basis","clip":true,"color":"#1a1a1a","strokeWidth":0.9},
"encoding":{
"x":{"field":"q","type":"quantitative","scale":{"domain":[0,0.11],"nice":false,"zero":false},
"axis":{"orient":"bottom","ticks":false,"values":[0,0.02,0.04,0.06,0.08,0.1],"format":".2f","labelPadding":7,"title":"Normalized Q","titlePadding":6}},
"y":{"field":"l","type":"quantitative","scale":{"domain":[0,35],"nice":false,"zero":false},
"axis":{"orient":"left","ticks":false,"values":[0,5,10,15,20,25,30,35],"labelPadding":9,"title":"Model level","titlePadding":5,"titleY":155}},
"detail":{"field":"s","type":"nominal"},
"order":{"field":"l","type":"quantitative"}
}},
{"data":{"name":"b"},
"mark":{"type":"line","interpolate":"basis","clip":true},
"encoding":{
"x":{"field":"q","type":"quantitative"},
"y":{"field":"l","type":"quantitative"},
"color":{"field":"k","type":"nominal","scale":{"domain":["0.1","0.09","0.08","0.07","0.06","0.05","0.04","0.03","0.02","0.01","0"],"range":["#111111","#7f93c9","#a6d37c","#d3d3d3","#555555","#f2e541","#e3262b","#1d4f9c","#5bb848","#c8c8c8","#111111"]},"legend":{"orient":"none","legendX":171,"legendY":12}},
"strokeDash":{"field":"k","type":"nominal","scale":{"domain":["0.1","0.09","0.08","0.07","0.06","0.05","0.04","0.03","0.02","0.01","0"],"range":[[1,0],[6,4],[6,4],[6,4],[6,4],[1,0],[1,0],[1,0],[1,0],[1,0],[1,0]]},"legend":{"orient":"none","legendX":171,"legendY":12}},
"strokeWidth":{"field":"k","type":"ordinal","scale":{"type":"ordinal","domain":["0.1","0.09","0.08","0.07","0.06","0.05","0.04","0.03","0.02","0.01","0"],"range":[1.1,1.2,1.2,1.2,1.2,3,3,3,3,3,3]},"legend":{"orient":"none","legendX":171,"legendY":12}},
"order":{"field":"l","type":"quantitative"}
}},
{"data":{"name":"txb"},
"mark":{"type":"tick","orient":"vertical","clip":true,"color":"#000","thickness":2,"opacity":1},
"encoding":{"x":{"field":"v","type":"quantitative"},"y":{"datum":0,"type":"quantitative"},
"size":{"condition":{"test":"abs(datum.v/0.02-round(datum.v/0.02))<0.01","value":18},"value":10}}},
{"data":{"name":"txb"},
"mark":{"type":"tick","orient":"vertical","clip":true,"color":"#000","thickness":2,"opacity":1},
"encoding":{"x":{"field":"v","type":"quantitative"},"y":{"datum":35,"type":"quantitative"},
"size":{"condition":{"test":"abs(datum.v/0.02-round(datum.v/0.02))<0.01","value":18},"value":10}}},
{"data":{"name":"ty"},
"mark":{"type":"tick","orient":"horizontal","clip":true,"color":"#000","thickness":2,"opacity":1},
"encoding":{"y":{"field":"v","type":"quantitative"},"x":{"datum":0,"type":"quantitative"},
"size":{"condition":{"test":"datum.v % 5 == 0","value":18},"value":10}}},
{"data":{"name":"ty"},
"mark":{"type":"tick","orient":"horizontal","clip":true,"color":"#000","thickness":2,"opacity":1},
"encoding":{"y":{"field":"v","type":"quantitative"},"x":{"datum":0.11,"type":"quantitative"},
"size":{"condition":{"test":"datum.v % 5 == 0","value":18},"value":10}}}
]
}
],
"config":{
"view":{"stroke":"#000","strokeWidth":1.5},
"axis":{"grid":false,"domainColor":"#000","domainWidth":1.5,"labelFont":"Liberation Sans","labelFontSize":12.5,"labelColor":"#333","labelFlush":false,"labelOverlap":false,"titleFont":"Liberation Serif","titleFontSize":19,"titleFontWeight":"normal","titleColor":"#3a3a3a"},
"legend":{"title":null,"symbolType":"stroke","symbolSize":6400,"clipHeight":11.4,"rowPadding":0,"padding":0,"labelFont":"Liberation Sans","labelFontSize":10,"labelColor":"#444","labelOffset":1}
}
}
